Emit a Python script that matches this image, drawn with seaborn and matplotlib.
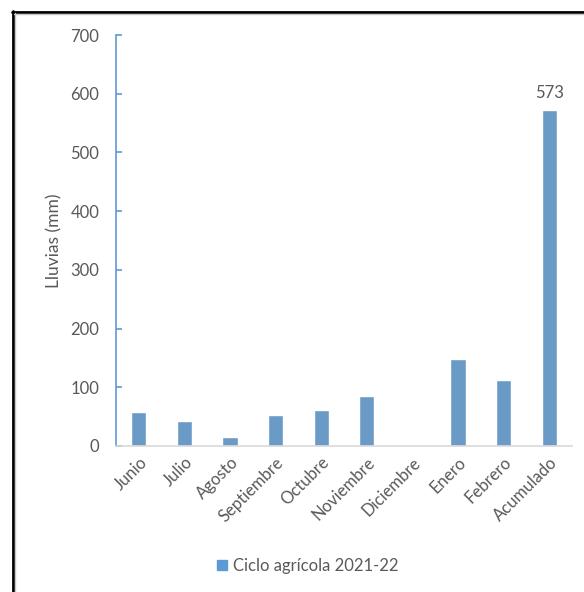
import matplotlib
matplotlib.use("Agg")
import matplotlib.pyplot as plt
import seaborn as sns
import pandas as pd
from matplotlib.lines import Line2D
from matplotlib.patches import Rectangle

meses = ["Junio", "Julio", "Agosto", "Septiembre", "Octubre", "Noviembre",
         "Diciembre", "Enero", "Febrero", "Acumulado"]
lluvias = [58, 43, 15, 53, 62, 85, 0, 149, 113, 573]
serie = "Ciclo agrícola 2021-22"
yticks = [0, 100, 200, 300, 400, 500, 600, 700]

sns.set_theme(style="white")
plt.rcParams["font.family"] = ["Lato", "DejaVu Sans"]

df = pd.DataFrame({"mes": meses, "lluvia": lluvias, "serie": serie})

blue = "#5B9BD5"
gray = "#595959"
fs = 12

fig = plt.figure(figsize=(5.84, 5.92), dpi=100)
ax = fig.add_axes([116/584, 1-446/592, (572-116)/584, (446-35)/592])

sns.barplot(data=df, x="mes", y="lluvia", hue="serie", palette=[blue],
            width=0.33, ax=ax, legend=False)

ax.set_ylim(0, 700)
ax.set_xlim(-0.5, len(meses) - 0.5)
ax.set_yticks(yticks)
ax.set_yticklabels([str(v) for v in yticks], color=gray, fontsize=fs)
ax.tick_params(axis="y", direction="in", length=4, width=1.2, color=blue, pad=12, left=True)
ax.tick_params(axis="x", length=0, pad=6)
for lab in ax.get_xticklabels():
    lab.set_rotation(45)
    lab.set_ha("right")
    lab.set_rotation_mode("anchor")
    lab.set_color(gray)
    lab.set_fontsize(fs)

for s in ["top", "right"]:
    ax.spines[s].set_visible(False)
ax.spines["left"].set_color(blue)
ax.spines["left"].set_linewidth(1.2)
ax.spines["bottom"].set_color("#D9D9D9")
ax.spines["bottom"].set_linewidth(1.2)

ax.set_xlabel("")
ax.set_ylabel("Lluvias (mm)", color=gray, fontsize=12.5, labelpad=6)

# data label on the accumulated bar
ax.bar_label(ax.containers[0], labels=[""] * (len(lluvias) - 1) + [str(lluvias[-1])],
             padding=6, color=gray, fontsize=fs)

# legend
handle = Rectangle((0, 0), 1, 1, color=blue)
fig.legend([handle], [serie], loc="center", bbox_to_anchor=(308/584, 1-566/592),
           frameon=False, handlelength=0.6, handleheight=0.6, handletextpad=0.35,
           prop={"size": fs}, labelcolor=gray)

# frame border (left and top)
fig.add_artist(Line2D([12.5/584, 12.5/584], [0, 1-11/592], transform=fig.transFigure,
                      color="black", linewidth=2))
fig.add_artist(Line2D([12/584, 1], [1-11.5/592, 1-11.5/592], transform=fig.transFigure,
                      color="black", linewidth=2))
fig.add_artist(Line2D([14.5/584, 14.5/584], [0, 1-13/592], transform=fig.transFigure,
                      color="#C8C8C8", linewidth=1))
fig.add_artist(Line2D([14/584, 1], [1-13.5/592, 1-13.5/592], transform=fig.transFigure,
                      color="#C8C8C8", linewidth=1))

fig.savefig("out.png", dpi=100)
